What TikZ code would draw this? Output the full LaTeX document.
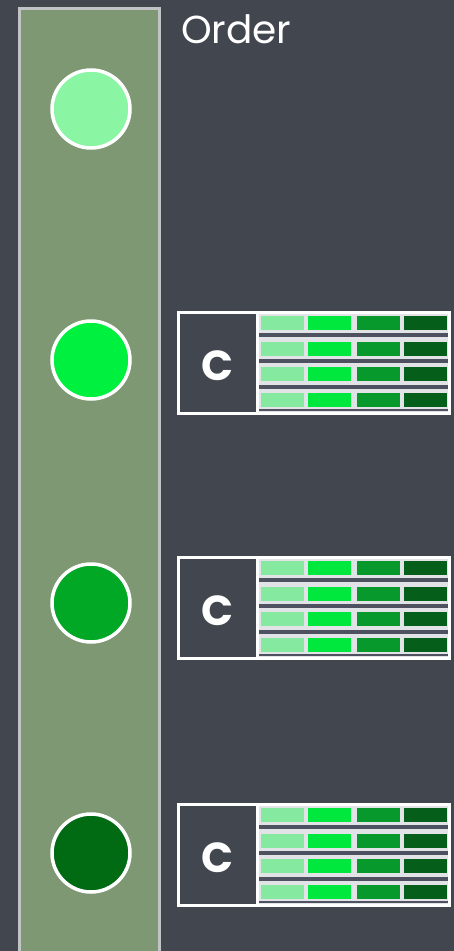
\documentclass[tikz,border=0pt]{standalone}
\usepackage{fontspec}
\setmainfont{Poppins}

\definecolor{board}{HTML}{41464F}
\definecolor{stripgreen}{HTML}{7D9873}
\definecolor{stripedge}{HTML}{C2C3C7}
\definecolor{gapgray}{HTML}{E2E3E7}
\definecolor{bandgray}{HTML}{4E5260}
\definecolor{dotA}{HTML}{8AF5A3}
\definecolor{dotB}{HTML}{00F040}
\definecolor{dotC}{HTML}{00A826}
\definecolor{dotD}{HTML}{006B12}
\definecolor{barA}{HTML}{86E9A0}
\definecolor{barB}{HTML}{00E83E}
\definecolor{barC}{HTML}{07992C}
\definecolor{barD}{HTML}{055F1A}

\begin{document}
\begin{tikzpicture}[x=1pt,y=-1pt,
  dot/.style={circle,draw=white,line width=3.5pt,minimum size=78pt,inner sep=0pt},
  letter/.style={text=white,font=\fontsize{42}{42}\selectfont\bfseries,inner sep=0pt}]
\useasboundingbox (0,0) rectangle (454,951);
\fill[board] (0,0) rectangle (454,951);
% ---- the order strip with its four dots ----
\draw[stripedge,fill=stripgreen,line width=3pt] (19,8) rectangle (159,965);
\node[anchor=base west,text=white,font=\fontsize{39}{39}\selectfont,inner sep=0pt]
  (order) at (181,43) {Order};
\foreach \col/\y [count=\i] in {dotA/109,dotB/360,dotC/603,dotD/853}{
  \node[dot,fill=\col] (dot\i) at (91,\y) {};
}
% ---- three C blocks, each a 4x4 grid of bars ----
\foreach \top [count=\k] in {312,557,804}{
  \begin{scope}[shift={(0,\top)}]
    \fill[gapgray] (257,0) rectangle (449,101);
    \foreach \b in {21,47,73}{
      \fill[bandgray] (257,\b) rectangle (449,\b+4);
    }
    \fill[bandgray] (257,97) rectangle (449,99);
    \foreach \r in {4,30,55,81}{
      \foreach \x/\col in {261/barA,308/barB,357/barC,404/barD}{
        \fill[\col] (\x,\r) rectangle (\x+43,\r+13.5);
      }
    }
    \draw[white,line width=3pt] (178,0) rectangle (449,101);
    \draw[white,line width=3pt] (257,0) -- (257,101);
    \node[letter] (c\k) at (217.5,54) {C};
  \end{scope}
}
\end{tikzpicture}
\end{document}
